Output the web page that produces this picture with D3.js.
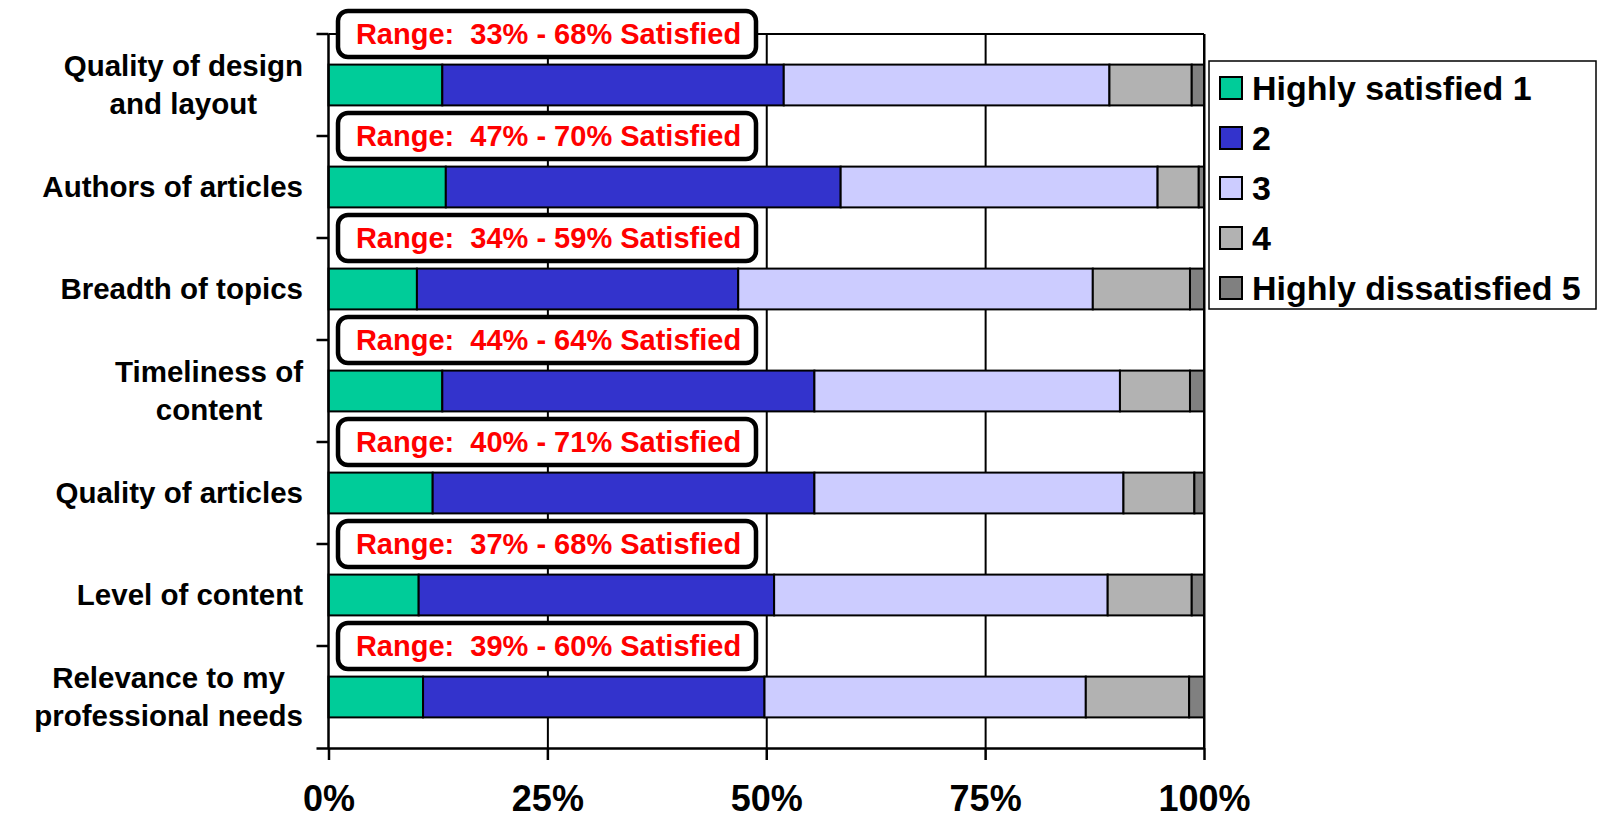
<!DOCTYPE html>
<html>
<head>
<meta charset="utf-8">
<script src="https://cdn.jsdelivr.net/npm/d3@7"></script>
<style>
  html, body { margin: 0; padding: 0; background: #fff; }
  svg { display: block; }
  text { font-family: "Liberation Sans", Arial, sans-serif; font-weight: bold; }
</style>
</head>
<body>
<svg id="chart" width="1598" height="819"></svg>
<script>
// ---- data ----
const categories = [
  ["Quality of design", "and layout"],
  ["Authors of articles"],
  ["Breadth of topics"],
  ["Timeliness of", "content"],
  ["Quality of articles"],
  ["Level of content"],
  ["Relevance to my", "professional needs"]
];
const seriesNames = ["Highly satisfied 1", "2", "3", "4", "Highly dissatisfied 5"];
const highlySatisfied = [13.0, 13.4, 10.1, 13.0, 11.9, 10.3, 10.8];
const rating2 =         [39.0, 45.1, 36.7, 42.5, 43.6, 40.6, 39.0];
const rating3 =         [37.2, 36.2, 40.5, 34.9, 35.3, 38.1, 36.7];
const rating4 =         [ 9.4,  4.7, 11.1,  8.0,  8.1,  9.6, 11.8];
const highlyDissatisfied = [1.4, 0.6, 1.6, 1.6, 1.1, 1.4, 1.7];
const rangeLabels = [
  "Range:  33% - 68% Satisfied",
  "Range:  47% - 70% Satisfied",
  "Range:  34% - 59% Satisfied",
  "Range:  44% - 64% Satisfied",
  "Range:  40% - 71% Satisfied",
  "Range:  37% - 68% Satisfied",
  "Range:  39% - 60% Satisfied"
];
const xTicks = [0, 25, 50, 75, 100];
const colors = ["#00CC99", "#3333CC", "#CCCCFF", "#B2B2B2", "#808080"];

(function () {
// ---- layout ----
const svg = d3.select("#chart");
const pLeft = 328.5, pRight = 1204, pTop = 34, pBottom = 748;
const keys = categories.map((c, i) => "c" + i);
const x = d3.scaleLinear().domain([0, 100]).range([pLeft, pRight]);
const y = d3.scaleBand().domain(keys).range([pTop, pBottom]).padding(0);
const bw = y.bandwidth();

const allSeries = [highlySatisfied, rating2, rating3, rating4, highlyDissatisfied];
const rows = keys.map((k, i) => {
  const o = { key: k };
  seriesNames.forEach((s, j) => o[s] = allSeries[j][i]);
  return o;
});
const stacked = d3.stack().keys(seriesNames)(rows);

// vertical gridlines
const grid = svg.append("g").attr("transform", `translate(0,${pBottom})`)
  .call(d3.axisBottom(x).tickValues(xTicks.slice(1)).tickSize(-(pBottom - pTop)).tickFormat(""));
grid.select(".domain").remove();
grid.selectAll("line").attr("stroke", "#000").attr("stroke-width", 2);

// bars
const barH = bw * 0.4;
svg.append("g").selectAll("g").data(stacked).join("g")
  .attr("fill", (d, i) => colors[i])
  .selectAll("rect").data(d => d).join("rect")
  .attr("x", d => x(d[0]))
  .attr("width", d => x(d[1]) - x(d[0]))
  .attr("y", d => y(d.data.key) + (bw - barH) / 2)
  .attr("height", barH)
  .attr("stroke", "#000")
  .attr("stroke-width", 2);

// plot frame: top and right
svg.append("line").attr("x1", pLeft).attr("x2", pRight).attr("y1", pTop).attr("y2", pTop)
  .attr("stroke", "#000").attr("stroke-width", 2);
svg.append("line").attr("x1", pRight).attr("x2", pRight).attr("y1", pTop).attr("y2", pBottom)
  .attr("stroke", "#000").attr("stroke-width", 2);

// bottom axis
const xAxis = svg.append("g").attr("transform", `translate(0,${pBottom})`)
  .call(d3.axisBottom(x).tickValues(xTicks).tickSize(12).tickSizeOuter(0).tickFormat(d => d + "%"));
xAxis.select(".domain").attr("d", `M${pLeft - 12},0.5H${pRight}`).attr("stroke", "#000").attr("stroke-width", 2.5);
xAxis.selectAll(".tick line").attr("stroke", "#000").attr("stroke-width", 2.5);
xAxis.selectAll(".tick text").attr("y", 63).attr("dy", 0)
  .attr("font-size", 36).attr("font-family", "Liberation Sans, Arial, sans-serif")
  .attr("font-weight", "bold").attr("fill", "#000");

// left axis with ticks at band boundaries
svg.append("line").attr("x1", pLeft).attr("x2", pLeft).attr("y1", pTop).attr("y2", pBottom)
  .attr("stroke", "#000").attr("stroke-width", 2.5);
svg.append("g").selectAll("line").data(keys).join("line")
  .attr("x1", pLeft - 12).attr("x2", pLeft)
  .attr("y1", d => y(d)).attr("y2", d => y(d))
  .attr("stroke", "#000").attr("stroke-width", 2.5);

// category labels (centered block, right edge of widest line at 303)
const labelRight = 303;
const labels = svg.append("g").selectAll("text").data(keys).join("text")
  .attr("text-anchor", "middle")
  .attr("font-size", 29.5)
  .attr("fill", "#000");
labels.each(function(k, i) {
  const lines = categories[i];
  const cy = y(k) + bw / 2;
  const lh = 38;
  const t = d3.select(this);
  const spans = lines.map((ln, j) => t.append("tspan")
      .attr("y", cy + 10 + (j - (lines.length - 1) / 2) * lh)
      .text(ln));
  const maxW = d3.max(spans, s => s.node().getComputedTextLength());
  spans.forEach(s => s.attr("x", labelRight - maxW / 2));
});

// range label boxes
const boxes = svg.append("g").selectAll("g").data(keys).join("g")
  .attr("transform", d => `translate(0,${y(d)})`);
boxes.append("rect")
  .attr("x", 338).attr("y", -23).attr("width", 418).attr("height", 46)
  .attr("rx", 10).attr("ry", 10)
  .attr("fill", "#fff").attr("stroke", "#000").attr("stroke-width", 4.5);
boxes.append("text")
  .attr("x", 548.5).attr("y", 10)
  .attr("text-anchor", "middle")
  .attr("font-size", 29)
  .attr("fill", "#FF0000")
  .style("white-space", "pre")
  .text((d, i) => rangeLabels[i]);

// legend
const lg = svg.append("g");
lg.append("rect").attr("x", 1209).attr("y", 61).attr("width", 387).attr("height", 248)
  .attr("fill", "#fff").attr("stroke", "#000").attr("stroke-width", 1.5);
const items = lg.selectAll("g").data(seriesNames).join("g")
  .attr("transform", (d, i) => `translate(0,${88 + i * 50})`);
items.append("rect").attr("x", 1220).attr("y", -11).attr("width", 22).attr("height", 22)
  .attr("fill", (d, i) => colors[i]).attr("stroke", "#000").attr("stroke-width", 2);
items.append("text").attr("x", 1252).attr("y", 12)
  .attr("font-size", 34).attr("fill", "#000")
  .text(d => d);
})();
</script>
</body>
</html>
